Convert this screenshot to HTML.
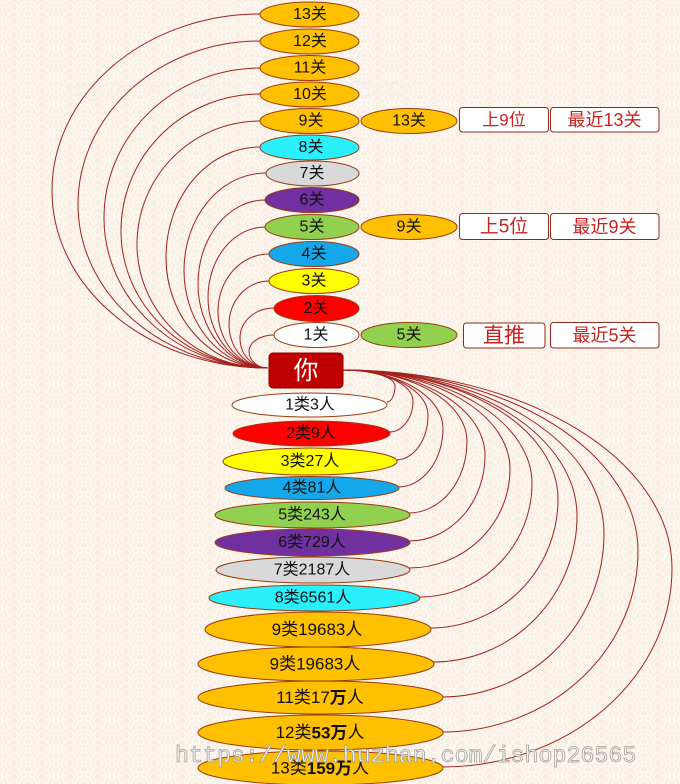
<!DOCTYPE html>
<html>
<head>
<meta charset="utf-8">
<style>
html,body{margin:0;padding:0;}
body{width:680px;height:784px;overflow:hidden;background:#faf0e5;}
svg{display:block;}
.lbl{font-family:"Liberation Sans","Noto Sans CJK SC",sans-serif;}
</style>
</head>
<body>
<svg width="680" height="784" viewBox="0 0 680 784" xmlns="http://www.w3.org/2000/svg">
<defs>
<pattern id="wave" width="28" height="14" patternUnits="userSpaceOnUse">
<rect width="28" height="14" fill="#faefe3"/>
<g fill="none" stroke="#fdf8f2" stroke-width="1.4">
<circle cx="0" cy="14" r="12"/><circle cx="0" cy="14" r="8"/><circle cx="0" cy="14" r="4"/>
<circle cx="28" cy="14" r="12"/><circle cx="28" cy="14" r="8"/><circle cx="28" cy="14" r="4"/>
<circle cx="14" cy="7" r="12"/><circle cx="14" cy="7" r="8"/><circle cx="14" cy="7" r="4"/>
</g>
</pattern>
</defs>
<rect width="680" height="784" fill="url(#wave)"/>

<!-- top watermark (faint) -->
<text x="62" y="96" style="font-family:'Liberation Serif',serif;font-size:22px;font-style:italic;letter-spacing:1px" fill="#ffffff" stroke="#eadfd2" stroke-width="0.4" opacity="0.7">http://www.huzhan.com/ishop26565</text>

<!-- top curves -->
<g fill="none" stroke="#a3201c" stroke-width="1">
<path d="M260,14 A208,177 0 0 0 52,191 A216,177 0 0 0 268,368"/>
<path d="M260,41 A182,163.5 0 0 0 78,204.5 A190,163.5 0 0 0 268,368"/>
<path d="M260,68 A156,150 0 0 0 104,218 A164,150 0 0 0 268,368"/>
<path d="M260,94 A139,137 0 0 0 121,231 A147,137 0 0 0 268,368"/>
<path d="M260,121 A123,123.5 0 0 0 137,244.5 A131,123.5 0 0 0 268,368"/>
<path d="M260,147 A94,110.5 0 0 0 166,257.5 A102,110.5 0 0 0 268,368"/>
<path d="M266,173 A82,97.5 0 0 0 184,270.5 A84,97.5 0 0 0 268,368"/>
<path d="M265,200 A67,84 0 0 0 198,284 A70,84 0 0 0 268,368"/>
<path d="M265,227 A57,70.5 0 0 0 208,297.5 A60,70.5 0 0 0 268,368"/>
<path d="M269,254 A51,57 0 0 0 218,311 A50,57 0 0 0 268,368"/>
<path d="M269,281 A40,43.5 0 0 0 229,324.5 A39,43.5 0 0 0 268,368"/>
<path d="M274,308 A34,30 0 0 0 240,338 A28,30 0 0 0 268,368"/>
<path d="M274,335 A25,16.5 0 0 0 249,351.5 A19,16.5 0 0 0 268,368"/>
</g>

<!-- bottom curves -->
<g fill="none" stroke="#a3201c" stroke-width="1">
<path d="M343,370 A52,16 0 0 1 395,386 A8,16 0 0 1 387,402"/>
<path d="M343,370 A70,31 0 0 1 413,401 A24,31 0 0 1 389,432"/>
<path d="M343,370 A85,45 0 0 1 428,415 A32,45 0 0 1 396,460"/>
<path d="M343,370 A100,58.5 0 0 1 443,428.5 A45,58.5 0 0 1 398,487"/>
<path d="M343,370 A124,71.5 0 0 1 467,441.5 A58,71.5 0 0 1 409,513"/>
<path d="M343,370 A142,85.5 0 0 1 485,455.5 A76,85.5 0 0 1 409,541"/>
<path d="M343,370 A167,99 0 0 1 510,469 A101,99 0 0 1 409,568"/>
<path d="M343,370 A189,113.5 0 0 1 532,483.5 A113,113.5 0 0 1 419,597"/>
<path d="M343,370 A215,129 0 0 1 558,499 A128,129 0 0 1 430,628"/>
<path d="M343,370 A234,146 0 0 1 577,516 A144,146 0 0 1 433,662"/>
<path d="M343,370 A261,163.5 0 0 1 604,533.5 A162,163.5 0 0 1 442,697"/>
<path d="M343,370 A295,181 0 0 1 638,551 A196,181 0 0 1 442,732"/>
<path d="M343,370 A329,198.5 0 0 1 672,568.5 A230,198.5 0 0 1 442,767"/>
</g>

<!-- top ellipses -->
<g stroke="#9a3d12" stroke-width="1">
<ellipse cx="309.5" cy="14.5" rx="49.5" ry="12.5" fill="#ffc000"/>
<ellipse cx="309.5" cy="41.5" rx="49.5" ry="12.5" fill="#ffc000"/>
<ellipse cx="309.5" cy="68" rx="49.5" ry="12.5" fill="#ffc000"/>
<ellipse cx="309.5" cy="94.5" rx="49.5" ry="12.5" fill="#ffc000"/>
<ellipse cx="309.5" cy="121" rx="49.5" ry="12.5" fill="#ffc000"/>
<ellipse cx="309.5" cy="147.5" rx="49.5" ry="12.5" fill="#2af0fd"/>
<ellipse cx="312.5" cy="173.5" rx="46.5" ry="12.5" fill="#d9d9d9"/>
<ellipse cx="312" cy="200" rx="47" ry="12.5" fill="#7030a0"/>
<ellipse cx="312" cy="227" rx="47" ry="12.5" fill="#92d050"/>
<ellipse cx="314" cy="254" rx="45" ry="12.5" fill="#14a8ea"/>
<ellipse cx="314" cy="281" rx="45" ry="12.5" fill="#ffff00"/>
<ellipse cx="316.5" cy="308.5" rx="42.5" ry="13" fill="#ff0000"/>
<ellipse cx="316.5" cy="335" rx="42.5" ry="12.5" fill="#ffffff"/>
<ellipse cx="409" cy="121" rx="48" ry="12.5" fill="#ffc000"/>
<ellipse cx="409" cy="227" rx="48" ry="12.5" fill="#ffc000"/>
<ellipse cx="409" cy="335" rx="48" ry="12.5" fill="#92d050"/>
</g>
<g class="lbl" font-size="16" fill="#111" text-anchor="middle" dominant-baseline="central">
<text x="310" y="14.5">13关</text>
<text x="310" y="41.5">12关</text>
<text x="310" y="68">11关</text>
<text x="310" y="94.5">10关</text>
<text x="311" y="121">9关</text>
<text x="311" y="147.5">8关</text>
<text x="312" y="173.5">7关</text>
<text x="312" y="200">6关</text>
<text x="312" y="227">5关</text>
<text x="314" y="254">4关</text>
<text x="314" y="281">3关</text>
<text x="316" y="308.5">2关</text>
<text x="316" y="335">1关</text>
<text x="409" y="121">13关</text>
<text x="409" y="227">9关</text>
<text x="409" y="335">5关</text>
</g>

<!-- right boxes -->
<g fill="#ffffff" stroke="#8b2a1e" stroke-width="1">
<rect x="459.5" y="107.5" width="89" height="24.5" rx="3"/>
<rect x="550.5" y="107.5" width="108.5" height="24.5" rx="3"/>
<rect x="459.5" y="213.5" width="89" height="26" rx="3"/>
<rect x="550.5" y="213.5" width="108.5" height="26" rx="3"/>
<rect x="463.5" y="323" width="81.5" height="25" rx="3"/>
<rect x="550.5" y="322.5" width="108.5" height="25.5" rx="3"/>
</g>
<g class="lbl" fill="#c8221f" text-anchor="middle" dominant-baseline="central">
<text x="504" y="120" font-size="17">上9位</text>
<text x="604.5" y="120" font-size="18">最近13关</text>
<text x="504" y="227" font-size="19">上5位</text>
<text x="604.5" y="227" font-size="18">最近9关</text>
<text x="504" y="336" font-size="21">直推</text>
<text x="604.5" y="335.5" font-size="18">最近5关</text>
</g>

<!-- 你 -->
<rect x="269" y="353" width="74" height="35" rx="4" fill="#c00000" stroke="#8a0000" stroke-width="1"/>
<text class="lbl" x="306" y="371" font-size="25" fill="#ffffff" text-anchor="middle" dominant-baseline="central">你</text>

<!-- bottom ellipses -->
<g stroke="#9a3d12" stroke-width="1">
<ellipse cx="309.5" cy="405" rx="77.5" ry="12" fill="#ffffff"/>
<ellipse cx="311.5" cy="433.5" rx="78.5" ry="12.5" fill="#ff0000"/>
<ellipse cx="310" cy="461.5" rx="87" ry="13.5" fill="#ffff00"/>
<ellipse cx="312" cy="488" rx="87" ry="11.5" fill="#14a8ea"/>
<ellipse cx="312.5" cy="515" rx="97.5" ry="13" fill="#92d050"/>
<ellipse cx="312.5" cy="542.5" rx="97.5" ry="13.5" fill="#7030a0"/>
<ellipse cx="313" cy="570" rx="97" ry="13" fill="#d9d9d9"/>
<ellipse cx="314.5" cy="598" rx="105.5" ry="13" fill="#2af0fd"/>
<ellipse cx="318" cy="629.5" rx="113" ry="17.5" fill="#ffc000"/>
<ellipse cx="316" cy="664" rx="118" ry="17" fill="#ffc000"/>
<ellipse cx="320.5" cy="697.5" rx="122.5" ry="16.5" fill="#ffc000"/>
<ellipse cx="320.5" cy="732.5" rx="122.5" ry="17.5" fill="#ffc000"/>
<ellipse cx="320.5" cy="768" rx="122.5" ry="17" fill="#ffc000"/>
</g>
<g class="lbl" fill="#111" text-anchor="middle" dominant-baseline="central">
<text x="310" y="405" font-size="16">1类3人</text>
<text x="311" y="433.5" font-size="16">2类9人</text>
<text x="310" y="461.5" font-size="16">3类27人</text>
<text x="312" y="488" font-size="16">4类81人</text>
<text x="312" y="515" font-size="16">5类243人</text>
<text x="312" y="542.5" font-size="16">6类729人</text>
<text x="312" y="570" font-size="16">7类2187人</text>
<text x="313" y="598" font-size="16">8类6561人</text>
<text x="317" y="629.5" font-size="17">9类19683人</text>
<text x="315" y="664" font-size="17">9类19683人</text>
<text x="320" y="697.5" font-size="17">11类17<tspan font-weight="bold">万</tspan>人</text>
<text x="320" y="732.5" font-size="17">12类<tspan font-weight="bold">53万</tspan>人</text>
<text x="320" y="768" font-size="17">13类<tspan font-weight="bold">159万</tspan>人</text>
</g>

<!-- bottom watermark -->
<text x="175" y="762" style="font-family:'Liberation Mono',monospace;font-size:23.3px" fill="#f6f3f0" stroke="#9a9a9a" stroke-width="0.7">https://www.huzhan.com/ishop26565</text>
</svg>
</body>
</html>
